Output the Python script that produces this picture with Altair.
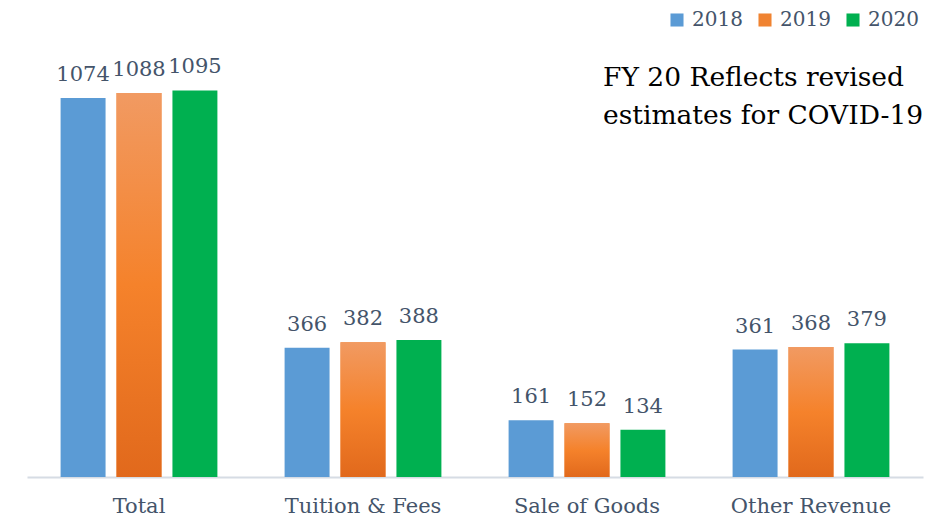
import altair as alt
import pandas as pd

categories = ["Total", "Tuition & Fees", "Sale of Goods", "Other Revenue"]
years = ["2018", "2019", "2020"]
v2018 = [1074, 366, 161, 361]
v2019 = [1088, 382, 152, 368]
v2020 = [1095, 388, 134, 379]
note_lines = ["FY 20 Reflects revised", "estimates for COVID-19"]

rows = []
for yr, vals in zip(years, [v2018, v2019, v2020]):
    for c, v in zip(categories, vals):
        rows.append({"category": c, "year": yr, "value": v})
df = pd.DataFrame(rows)

FONT = "DejaVu Serif"
TXT = "#44546A"

x = alt.X("category:N", sort=categories,
          scale=alt.Scale(paddingInner=0.3, paddingOuter=0.15),
          axis=alt.Axis(title=None, labelAngle=0, labelFont=FONT, labelFontSize=21,
                        labelColor=TXT, labelPadding=18, ticks=False,
                        domainColor="#D6DCE4", domainWidth=2))
xo = alt.XOffset("year:N", sort=years, scale=alt.Scale(paddingInner=0.196, paddingOuter=0))
y = alt.Y("value:Q", scale=alt.Scale(domain=[0, 1272], nice=False), axis=None)

base = alt.Chart(df)

bars = base.mark_bar().encode(
    x=x, xOffset=xo, y=y,
    color=alt.Color("year:N", sort=years,
                    scale=alt.Scale(domain=years, range=["#5B9BD5", "#F08331", "#00B050"]),
                    legend=alt.Legend(title=None, orient="none", direction="horizontal",
                                      legendX=640, legendY=-18, symbolType="square",
                                      symbolSize=170, symbolStrokeWidth=0,
                                      labelFont=FONT, labelFontSize=20, labelColor=TXT,
                                      columnPadding=12, labelOffset=5)),
)

grad = base.transform_filter(alt.datum.year == "2019").mark_bar(
    fill=alt.Gradient(gradient="linear", x1=0, x2=0, y1=0, y2=1,
                      stops=[alt.GradientStop(offset=0, color="#F19A62"),
                             alt.GradientStop(offset=0.5, color="#F5822B"),
                             alt.GradientStop(offset=1, color="#E1691C")])
).encode(x=x, xOffset=xo, y=y)

labels = base.mark_text(font=FONT, fontSize=21, color=TXT, baseline="bottom", dy=-13).encode(
    x=x, xOffset=xo, y=y, text="value:Q"
)

note = alt.Chart(pd.DataFrame({"a": [0]})).mark_text(
    font=FONT, fontSize=26.5, color="#000000", align="left", baseline="middle", lineHeight=38
).encode(
    x=alt.value(576),
    y=alt.value(50),
    text=alt.value(note_lines),
)

chart = alt.layer(bars, grad, labels, note).properties(
    width=896, height=449,
    autosize=alt.AutoSizeParams(type="none"),
    padding={"left": 19, "top": 20, "right": 12, "bottom": 42},
).configure_view(stroke=None)

chart.save("out.html", embed_options={"renderer": "svg", "actions": False})
